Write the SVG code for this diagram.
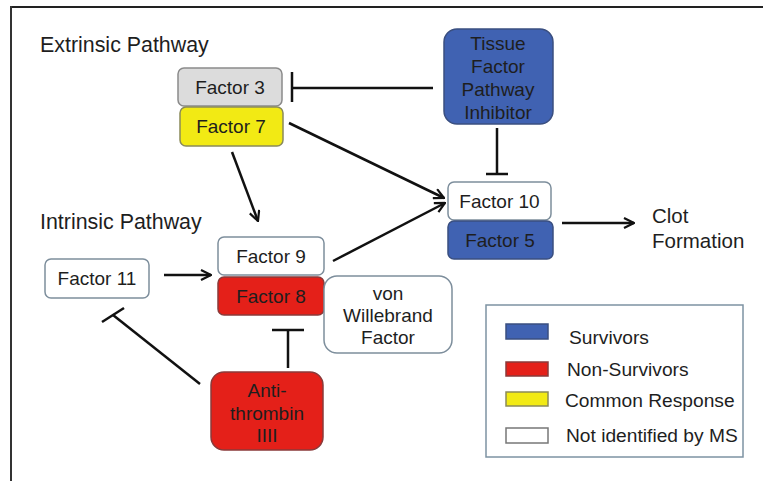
<svg xmlns="http://www.w3.org/2000/svg" width="763" height="481" viewBox="0 0 763 481">
<defs>
<style>
text{font-family:"Liberation Sans",Arial,sans-serif;fill:#1e1e1e;}
.box{font-size:19px;text-anchor:middle;}
.title{font-size:21.4px;}
.leg{font-size:19.2px;}
.ln{stroke:#111;stroke-width:2.5;fill:none;}
.grey{fill:#dcdcdc;stroke:#8a8a8a;stroke-width:1.5;}
.yellow{fill:#f2ea14;stroke:#8a8a5a;stroke-width:1.5;}
.blue{fill:#4062b2;stroke:#3a4f80;stroke-width:1.5;}
.red{fill:#e42019;stroke:#8a3a3a;stroke-width:1.5;}
.white{fill:#fff;stroke:#7d8e9c;stroke-width:1.5;}
</style>
<marker id="arr" viewBox="0 0 12 12" refX="11" refY="6" markerWidth="12" markerHeight="12" markerUnits="userSpaceOnUse" orient="auto">
<path d="M1,1 L11,6 L1,11" fill="none" stroke="#111" stroke-width="2.2"/>
</marker>
</defs>
<rect width="763" height="481" fill="#fff"/>
<g id="frame">
<line x1="10" y1="7" x2="763" y2="7" stroke="#222" stroke-width="2"/>
<line x1="11" y1="6" x2="11" y2="481" stroke="#333" stroke-width="2"/>
</g>
<text class="title" x="40" y="52">Extrinsic Pathway</text>
<text class="title" x="40" y="229">Intrinsic Pathway</text>
<g id="connectors">
<line class="ln" x1="293" y1="88" x2="433" y2="88"/>
<line class="ln" x1="292" y1="72" x2="292" y2="102"/>
<line class="ln" x1="497" y1="128" x2="497" y2="174"/>
<line class="ln" x1="486" y1="174" x2="508" y2="174"/>
<line class="ln" x1="289" y1="123" x2="444" y2="198" marker-end="url(#arr)"/>
<line class="ln" x1="333" y1="261" x2="445" y2="203" marker-end="url(#arr)"/>
<line class="ln" x1="232" y1="152" x2="258" y2="221" marker-end="url(#arr)"/>
<line class="ln" x1="164" y1="275" x2="211" y2="275" marker-end="url(#arr)"/>
<line class="ln" x1="562" y1="223" x2="634" y2="223" marker-end="url(#arr)"/>
<line class="ln" x1="288" y1="368" x2="288" y2="330"/>
<line class="ln" x1="272" y1="330" x2="304" y2="330"/>
<line class="ln" x1="200" y1="384" x2="113" y2="315"/>
<line class="ln" x1="102" y1="322" x2="124" y2="308"/>
</g>
<g id="factor3"><rect class="grey" x="178" y="68" width="104" height="38" rx="6"/><text class="box" x="230" y="94">Factor 3</text></g>
<g id="factor7"><rect class="yellow" x="180" y="107" width="103" height="39" rx="6"/><text class="box" x="231" y="133">Factor 7</text></g>
<g id="tfpi"><rect class="blue" x="444" y="29" width="109" height="95" rx="13"/>
<text class="box" x="498" y="50">Tissue</text><text class="box" x="498" y="73">Factor</text><text class="box" x="498" y="96">Pathway</text><text class="box" x="498" y="119">Inhibitor</text></g>
<g id="factor10"><rect class="white" x="448" y="182" width="103" height="38" rx="6"/><text class="box" x="499.5" y="208">Factor 10</text></g>
<g id="factor5"><rect class="blue" x="448" y="221" width="105" height="38" rx="6"/><text class="box" x="500" y="247">Factor 5</text></g>
<g id="clot"><text x="652" y="223" style="font-size:20.5px">Clot</text><text x="652" y="248" style="font-size:20.5px">Formation</text></g>
<g id="factor11"><rect class="white" x="45" y="259" width="104" height="39" rx="6"/><text class="box" x="97" y="285">Factor 11</text></g>
<g id="factor9"><rect class="white" x="218" y="237" width="106" height="38" rx="6"/><text class="box" x="271" y="263">Factor 9</text></g>
<g id="factor8"><rect class="red" x="218" y="277" width="106" height="38" rx="6"/><text class="box" x="271" y="303">Factor 8</text></g>
<g id="vwf"><rect class="white" x="324" y="276" width="128" height="77" rx="13"/>
<text class="box" x="388" y="300">von</text><text class="box" x="388" y="322">Willebrand</text><text class="box" x="388" y="344">Factor</text></g>
<g id="antithrombin"><rect class="red" x="211" y="372" width="112" height="78" rx="13"/>
<text class="box" x="267" y="397">Anti-</text><text class="box" x="267" y="420">thrombin</text><text class="box" x="267" y="442">IIII</text></g>
<g id="legend">
<rect x="486" y="305" width="257" height="152" fill="#fff" stroke="#7d93a3" stroke-width="1.5"/>
<rect class="blue" x="506" y="324" width="42" height="15"/>
<rect class="red" x="506" y="362" width="42" height="14"/>
<rect class="yellow" x="506" y="392" width="42" height="14"/>
<rect x="506" y="428" width="42" height="15" fill="#fff" stroke="#777" stroke-width="1.5"/>
<text class="leg" x="569" y="344">Survivors</text>
<text class="leg" x="567" y="376">Non-Survivors</text>
<text class="leg" x="565" y="407">Common Response</text>
<text class="leg" x="566" y="442">Not identified by MS</text>
</g>
</svg>
